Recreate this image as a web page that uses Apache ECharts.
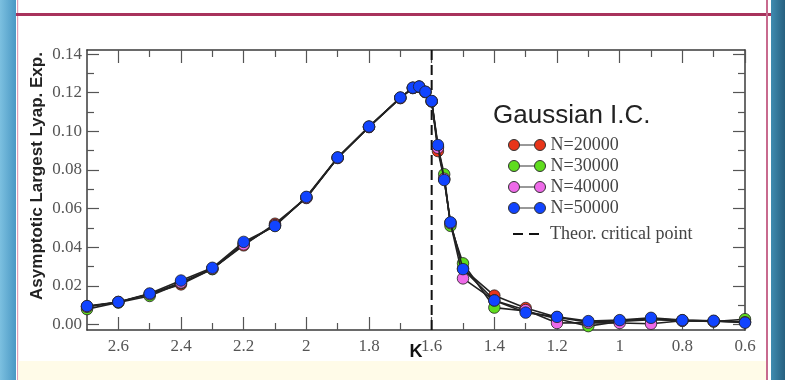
<!DOCTYPE html>
<html><head><meta charset="utf-8">
<script src="https://cdn.jsdelivr.net/npm/echarts@6/dist/echarts.min.js"></script>
<style>html,body{margin:0;padding:0;background:#fff}#c{width:785px;height:380px}</style>
</head><body><div id="c"></div>
<script>
// ---- data ----
const kValues = [2.7,2.6,2.5,2.4,2.3,2.2,2.1,2.0,1.9,1.8,1.7,1.66,1.64,1.62,1.6,1.58,1.56,1.54,1.5,1.4,1.3,1.2,1.1,1.0,0.9,0.8,0.7,0.6];
const n20000 = [0.0094,0.0116,0.0158,0.0208,0.0288,0.0410,0.0522,0.0655,0.0862,0.1022,0.1172,0.1224,0.1230,0.1203,0.1155,0.0898,0.0752,0.0527,0.0290,0.0150,0.0086,0.0038,0.0012,0.0020,0.0030,0.0022,0.0018,0.0015];
const n30000 = [0.0080,0.0114,0.0148,0.0215,0.0287,0.0420,0.0512,0.0658,0.0864,0.1024,0.1174,0.1225,0.1231,0.1204,0.1156,0.0920,0.0778,0.0511,0.0317,0.0088,0.0070,0.0030,-0.0008,0.0016,0.0025,0.0020,0.0016,0.0028];
const n40000 = [0.0092,0.0117,0.0157,0.0218,0.0290,0.0415,0.0515,0.0657,0.0863,0.1023,0.1173,0.1225,0.1231,0.1204,0.1156,0.0915,0.0755,0.0525,0.0239,0.0125,0.0075,0.0008,0.0010,0.0008,0.0004,0.0020,0.0017,0.0012];
const n50000 = [0.0096,0.0117,0.0161,0.0228,0.0294,0.0428,0.0510,0.0661,0.0865,0.1025,0.1175,0.1226,0.1232,0.1205,0.1157,0.0929,0.0748,0.0529,0.0287,0.0125,0.0062,0.0040,0.0018,0.0023,0.0035,0.0023,0.0020,0.0010];
const criticalK = 1.6;
const xMin = 0.6, xMax = 2.7;
const yMin = -0.0028, yMax = 0.1421;
const xTickLabels = [2.6,2.4,2.2,2.0,1.8,1.6,1.4,1.2,1.0,0.8,0.6];
const xMinorTicks = [2.5,2.3,2.1,1.9,1.7,1.5,1.3,1.1,0.9,0.7];
const yTickLabels = [0,0.02,0.04,0.06,0.08,0.10,0.12,0.14];
const yMinorTicks = [0.01,0.03,0.05,0.07,0.09,0.11,0.13];
const seriesNames = ['N=20000','N=30000','N=40000','N=50000'];
const seriesValues = [n20000,n30000,n40000,n50000];
const seriesColors = ['#e8351a','#5fdc1e','#ee6ae8','#1144ff'];
const critName = 'Theor. critical point';

// ---- chart ----
const chart = echarts.init(document.getElementById('c'), null, {renderer:'canvas'});
const serif = 'Liberation Serif';
const axisCol = '#3a3a3a';
function xAxisDef(pos, ticks, len, labels, line){
  return {type:'value', position:pos, min:xMin, max:xMax, inverse:true,
    axisLine:{show:line, onZero:false, lineStyle:{color:axisCol, width:1.5}},
    axisTick:{show:true, inside:true, length:len, customValues:ticks, lineStyle:{color:'#555', width:1.2}},
    axisLabel:{show:labels, customValues:ticks, margin:8, color:'#555', fontFamily:serif, fontSize:17,
      formatter:v=>String(Math.round(v*10)/10)},
    splitLine:{show:false}};
}
function yAxisDef(pos, ticks, len, labels, line){
  return {type:'value', position:pos, min:yMin, max:yMax,
    axisLine:{show:line, onZero:false, lineStyle:{color:axisCol, width:1.5}},
    axisTick:{show:true, inside:true, length:len, customValues:ticks, lineStyle:{color:'#555', width:1.2}},
    axisLabel:{show:labels, customValues:ticks, margin:5, color:'#555', fontFamily:serif, fontSize:17,
      formatter:v=>v.toFixed(2)},
    splitLine:{show:false}};
}

const circlePath = 'path://M0,5.5 A5.5,5.5 0 1 0 11,5.5 A5.5,5.5 0 1 0 0,5.5 Z M26,5.5 A5.5,5.5 0 1 0 37,5.5 A5.5,5.5 0 1 0 26,5.5 Z M11,5.5 L26,5.5';
const dashPath = 'path://M0,0 L0,0 M37,11 L37,11 M5,4.6 L15,4.6 L15,6.4 L5,6.4 Z M21,4.6 L31,4.6 L31,6.4 L21,6.4 Z';

const series = seriesNames.map((nm,i)=>({
  name:nm, type:'line', xAxisIndex:0, yAxisIndex:0,
  data:kValues.map((k,j)=>[k, seriesValues[i][j]]),
  color:seriesColors[i],
  symbol:'circle', symbolSize:11.5, showSymbol:true,
  lineStyle:{color:'#222', width:1.6},
  itemStyle:{color:seriesColors[i], borderColor:'#222', borderWidth:0.8},
  z:2+i, animation:false, silent:true
}));
series.push({
  name:critName, type:'line', xAxisIndex:0, yAxisIndex:0,
  data:[[criticalK,yMin],[criticalK,yMax]], symbol:'none', color:'#111',
  lineStyle:{color:'#111', width:2, type:[10,5]}, z:1, animation:false, silent:true
});

const legendData = seriesNames.map((nm,i)=>({name:nm, icon:circlePath,
  itemStyle:{color:seriesColors[i], borderColor:'#333', borderWidth:1}}));
const legendText = {fontFamily:serif, fontSize:18, color:'#444'};

chart.setOption({
  animation:false,
  backgroundColor:'#ffffff',
  grid:{left:87, right:40, top:50, bottom:50, containLabel:false},
  xAxis:[xAxisDef('bottom', xTickLabels, 13, true, true), xAxisDef('top', xTickLabels, 13, false, true),
         xAxisDef('bottom', xMinorTicks, 7, false, false), xAxisDef('top', xMinorTicks, 7, false, false)],
  yAxis:[yAxisDef('left', yTickLabels, 12, true, true), yAxisDef('right', yTickLabels, 12, false, true),
         yAxisDef('left', yMinorTicks, 7, false, false), yAxisDef('right', yMinorTicks, 7, false, false)],
  title:{text:'Gaussian I.C.', left:493, top:103, padding:0,
    textStyle:{fontFamily:'Liberation Sans', fontWeight:'normal', fontSize:26, color:'#222'}},
  legend:[
    {orient:'vertical', left:508, top:136, padding:0, itemGap:3, itemWidth:37, itemHeight:11,
      selectedMode:false, data:legendData, textStyle:legendText},
    {orient:'vertical', left:508, top:225, padding:0, itemWidth:37, itemHeight:11,
      selectedMode:false, data:[{name:critName, icon:dashPath, itemStyle:{color:'#111', borderWidth:0}}],
      textStyle:legendText}
  ],
  graphic:[
    {type:'rect', shape:{x:0,y:0,width:16,height:380}, z:-10, style:{fill:new echarts.graphic.LinearGradient(0,0,1,0,[{offset:0,color:'#7cc0e0'},{offset:1,color:'#4a98c4'}])}},
    {type:'rect', shape:{x:17,y:0,width:1.2,height:380}, z:-10, style:{fill:'#e0a0b8'}},
    {type:'rect', shape:{x:16,y:13,width:756,height:3}, z:-10, style:{fill:'#a8325c'}},
    {type:'rect', shape:{x:766,y:0,width:2,height:380}, z:-10, style:{fill:'#c86a8e'}},
    {type:'rect', shape:{x:771,y:0,width:14,height:380}, z:-10, style:{fill:new echarts.graphic.LinearGradient(0,0,1,0,[{offset:0,color:'#3f8cb0'},{offset:1,color:'#276080'}])}},
    {type:'rect', shape:{x:18.2,y:361,width:747.8,height:19}, z:-10, style:{fill:'#fffbe8'}},
    {type:'text', x:37, y:176, rotation:Math.PI/2, z:5,
      style:{text:'Asymptotic Largest Lyap. Exp.', fill:'#222', font:'bold 17px "Liberation Sans"', align:'center', verticalAlign:'middle'}},
    {type:'text', x:416, y:352, z:5,
      style:{text:'K', fill:'#111', font:'bold 18px "Liberation Sans"', align:'center', verticalAlign:'middle'}}
  ],
  series:series
});
</script></body></html>
